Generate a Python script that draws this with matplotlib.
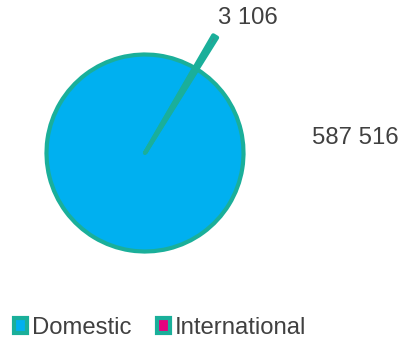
import matplotlib.pyplot as plt
from matplotlib.patches import Patch

labels = ['Domestic', 'International']
values = [587516, 3106]
colors = ['#00B0F0', '#E6007E']
edge = '#1AAF9A'
txt = '#404040'

plt.rcParams['font.family'] = ['Liberation Sans', 'DejaVu Sans']

fig = plt.figure(figsize=(4.03, 3.40), dpi=100)
ax = fig.add_axes([0, 0, 1, 1])

wedges, _ = ax.pie(values, colors=colors, startangle=58, counterclock=False,
                   center=(145, 187), radius=98.5, frame=True,
                   wedgeprops=dict(edgecolor=edge, linewidth=3))
# small slice sticks out past the circle
wedges[1].set_radius(136)
wedges[1].set_joinstyle('round')
ax.set_xlim(0, 403)
ax.set_ylim(0, 340)
ax.set_aspect('equal')
ax.axis('off')

def fmt(v):
    return f'{v:,}'.replace(',', ' ')

ax.text(248, 322, fmt(values[1]), ha='center', va='center', fontsize=17.2, color=txt)
ax.text(355, 202, fmt(values[0]), ha='center', va='center', fontsize=17.2, color=txt)

handles = [Patch(facecolor=c, edgecolor=edge, linewidth=3) for c in colors]
fig.legend(handles, labels, loc='center left', bbox_to_anchor=(0.034, 0.035), ncol=2,
           frameon=False, fontsize=17.2, labelcolor=txt, handlelength=0.55,
           handleheight=0.55, handletextpad=0.2, columnspacing=1.1, borderaxespad=0,
           borderpad=0)

fig.savefig('out.png', dpi=100)
